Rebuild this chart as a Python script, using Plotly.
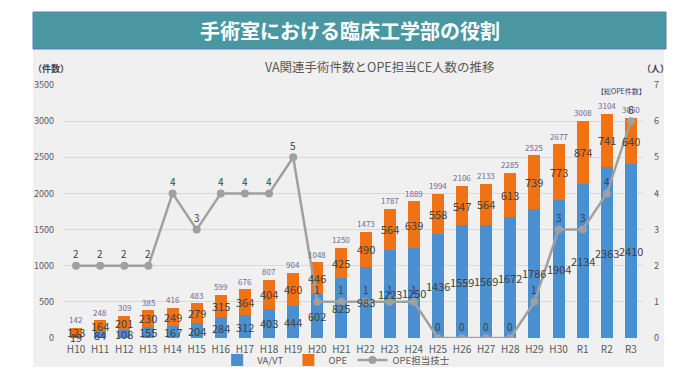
import plotly.graph_objects as go

categories = ["H10", "H11", "H12", "H13", "H14", "H15", "H16", "H17", "H18", "H19",
              "H20", "H21", "H22", "H23", "H24", "H25", "H26", "H27", "H28", "H29",
              "H30", "R1", "R2", "R3"]
va_vt = [19, 84, 108, 155, 167, 204, 284, 312, 403, 444,
         602, 825, 983, 1223, 1250, 1436, 1559, 1569, 1672, 1786,
         1904, 2134, 2363, 2410]
ope = [123, 164, 201, 230, 249, 279, 315, 364, 404, 460,
       446, 425, 490, 564, 639, 558, 547, 564, 613, 739,
       773, 874, 741, 640]
staff = [2, 2, 2, 2, 4, 3, 4, 4, 4, 5,
         1, 1, 1, 1, 1, 0, 0, 0, 0, 1,
         3, 3, 4, 6]
left_ticks = [0, 500, 1000, 1500, 2000, 2500, 3000, 3500]
right_ticks = [0, 1, 2, 3, 4, 5, 6, 7]

FONT = "Noto Sans CJK JP"
BLUE = "#4a8fd0"
ORANGE = "#f07217"
GRAY = "#a0a0a0"

# page offset (body margin) and plot area in screen pixels
OFF = 8
L, R, T, B = 64, 643, 85, 338
SW, SH = 700, 380
pw, ph = R - L, B - T


def px_x(x):
    return (x - L) / pw


def px_y(y):
    return (B - y) / ph


fig = go.Figure()
fig.add_trace(go.Bar(x=categories, y=va_vt, name="VA/VT", marker_color=BLUE,
                     marker_line_width=0, width=0.5))
fig.add_trace(go.Bar(x=categories, y=ope, name="OPE", marker_color=ORANGE,
                     marker_line_width=0, width=0.5))
fig.add_trace(go.Scatter(x=categories, y=staff, name="OPE担当技士", yaxis="y2",
                         mode="lines+markers",
                         line=dict(color=GRAY, width=2.5),
                         marker=dict(color=GRAY, size=8)))

ann = []
totals = [a + b for a, b in zip(va_vt, ope)]
for c, a, b, t, s in zip(categories, va_vt, ope, totals, staff):
    ann.append(dict(x=c, y=a / 2, xref="x", yref="y", text=str(a), showarrow=False,
                    font=dict(size=11, color="#404040", family=FONT)))
    ann.append(dict(x=c, y=a + b / 2, xref="x", yref="y", text=str(b), showarrow=False,
                    font=dict(size=11, color="#404040", family=FONT)))
    ann.append(dict(x=c, y=t, xref="x", yref="y", text=str(t), showarrow=False,
                    yshift=8, font=dict(size=8, color="#6b6b95", family=FONT)))
    ann.append(dict(x=c, y=s, xref="x", yref="y2", text=str(s), showarrow=False,
                    yshift=12, font=dict(size=10, color="#404040", family=FONT)))


def static(x, y, text, size, color):
    return dict(x=px_x(x), y=px_y(y), xref="paper", yref="paper", text=text,
                showarrow=False, xanchor="center", yanchor="middle",
                font=dict(size=size, color=color, family=FONT))


ann.append(static(350, 30.5, "<b>手術室における臨床工学部の役割</b>", 20, "white"))
ann.append(static(380, 67, "VA関連手術件数とOPE担当CE人数の推移", 12.5, "#595959"))
ann.append(static(51, 69, "<b>（件数）</b>", 9, "#404040"))
ann.append(static(655, 69, "<b>（人）</b>", 9, "#404040"))
ann.append(static(621, 91, "【総OPE件数】", 7, "#3a3a6a"))

shapes = [
    dict(type="rect", xref="paper", yref="paper", layer="below",
         x0=px_x(33), x1=px_x(664), y0=px_y(367), y1=px_y(49),
         fillcolor="#f0f0f0", line=dict(width=0)),
    dict(type="rect", xref="paper", yref="paper", layer="below",
         x0=px_x(33), x1=px_x(666), y0=px_y(49), y1=px_y(12),
         fillcolor="#4a97a2", line=dict(color="#5b7fae", width=1)),
]

fig.update_layout(
    width=SW - OFF, height=SH - OFF,
    margin=dict(l=L - OFF, r=SW - R, t=T - OFF, b=SH - B, autoexpand=False),
    paper_bgcolor="white", plot_bgcolor="rgba(0,0,0,0)",
    barmode="stack", bargap=0.5,
    font=dict(family=FONT, color="#595959", size=10),
    showlegend=True,
    legend=dict(orientation="h", x=0.47, xanchor="center", y=px_y(360), yanchor="middle",
                font=dict(size=9.5, color="#595959", family=FONT), traceorder="normal",
                bgcolor="rgba(0,0,0,0)", itemwidth=30, tracegroupgap=0),
    xaxis=dict(range=[-0.5, len(categories) - 0.5], showgrid=False, showline=False, ticks="",
               tickfont=dict(size=10, color="#595959"), ticklabelstandoff=4, automargin=False),
    yaxis=dict(range=[0, 3500], tickvals=left_ticks, showgrid=True, gridcolor="#d9d9d9",
               gridwidth=1, zeroline=False, showline=False, ticks="", automargin=False,
               tickfont=dict(size=9, color="#595959"), ticklabelstandoff=9),
    yaxis2=dict(range=[0, 7], tickvals=right_ticks, overlaying="y", side="right",
                showgrid=False, zeroline=False, showline=False, ticks="", automargin=False,
                tickfont=dict(size=9, color="#595959"), ticklabelstandoff=10),
    annotations=ann,
    shapes=shapes,
)

fig.write_html("out.html")
